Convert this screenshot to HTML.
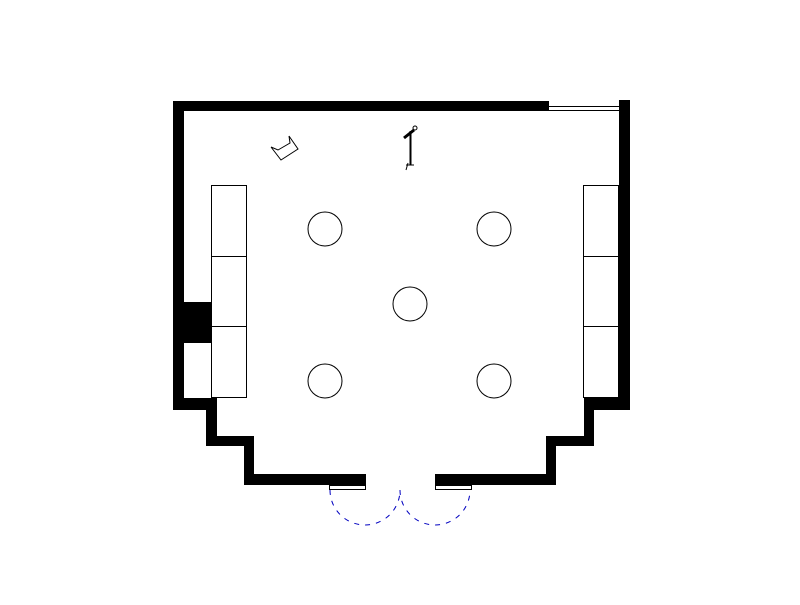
<!DOCTYPE html>
<html><head><style>html,body{margin:0;padding:0;background:#fff;}</style></head>
<body>
<svg width="800" height="600" viewBox="0 0 800 600" xmlns="http://www.w3.org/2000/svg">
<rect width="800" height="600" fill="#fff"/>
<g fill="#000">
<rect x="173" y="101" width="376" height="10"/>
<rect x="173" y="101" width="11" height="309"/>
<rect x="173" y="398" width="44" height="12"/>
<rect x="206" y="398" width="11" height="48"/>
<rect x="206" y="436" width="48" height="10"/>
<rect x="244" y="436" width="10" height="49"/>
<rect x="244" y="474" width="122" height="11"/>
<rect x="619" y="100" width="11" height="310"/>
<rect x="584" y="398" width="46" height="12"/>
<rect x="584" y="398" width="10" height="48"/>
<rect x="546" y="436" width="48" height="10"/>
<rect x="546" y="436" width="10" height="49"/>
<rect x="435" y="474" width="121" height="11"/>
<rect x="184" y="302" width="27" height="41"/>
</g>
<g fill="none" stroke="#000" stroke-width="1">
<line x1="549" y1="106.5" x2="619" y2="106.5"/>
<line x1="549" y1="110.5" x2="619" y2="110.5"/>
<rect x="211.5" y="185.5" width="35" height="212"/>
<line x1="211" y1="256.5" x2="247" y2="256.5"/>
<line x1="211" y1="326.5" x2="247" y2="326.5"/>
<rect x="583.5" y="185.5" width="35" height="212"/>
<line x1="583" y1="256.5" x2="619" y2="256.5"/>
<line x1="583" y1="326.5" x2="619" y2="326.5"/>
<circle cx="325" cy="229" r="17"/>
<circle cx="494" cy="229" r="17"/>
<circle cx="410" cy="304" r="17"/>
<circle cx="325" cy="381" r="17"/>
<circle cx="494" cy="381" r="17"/>
<rect x="329.5" y="485.5" width="36" height="4" fill="#fff"/>
<rect x="435.5" y="485.5" width="36" height="4" fill="#fff"/>
<polyline points="271,147 278,150 290,143 289,136 298,149 281,160 271,147"/>
<line x1="410.5" y1="131" x2="410.5" y2="165" stroke-width="2"/>
<line x1="406" y1="165" x2="414" y2="165"/>
<line x1="408" y1="163" x2="406" y2="170"/>
<line x1="404" y1="138" x2="414" y2="130" stroke-width="3"/>
<circle cx="415" cy="128" r="2"/>
</g>
<g fill="none" stroke="#0000c0" stroke-width="1" stroke-dasharray="5,6">
<path d="M330 490 A35 35 0 0 0 400 490"/>
<path d="M400 490 A35 35 0 0 0 470 490"/>
</g>
</svg>
</body></html>
